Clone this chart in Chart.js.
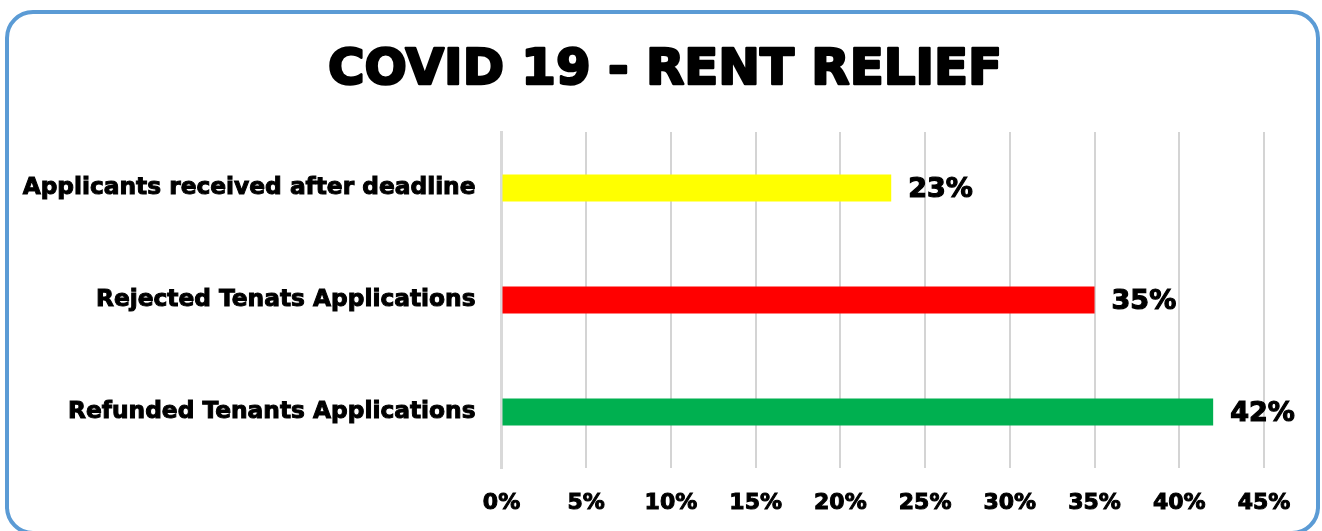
<!DOCTYPE html>
<html>
<head>
<meta charset="utf-8">
<script src="https://cdn.jsdelivr.net/npm/chart.js@4.4.0/dist/chart.umd.min.js"></script>
<style>
  html, body { margin: 0; padding: 0; background: #ffffff; }
  #wrap { position: relative; width: 1322px; height: 531px; overflow: hidden; }
  #frame { position: absolute; left: 5px; top: 10px; width: 1315px; height: 525px;
           box-sizing: border-box; border: 4px solid #5b9bd5; border-radius: 28px; }
  #c { position: absolute; left: 0; top: 0; }
</style>
</head>
<body>
<div id="wrap">
  <div id="frame"></div>
  <canvas id="c" width="1322" height="531"></canvas>
</div>
<script>
const titleText = "COVID 19 - RENT RELIEF";
const categories = [
  "Applicants received after deadline",
  "Rejected Tenats Applications",
  "Refunded Tenants Applications"
];
const values = [23, 35, 42];
const barColors = ["#ffff00", "#ff0000", "#00b050"];
const tickValues = [0, 5, 10, 15, 20, 25, 30, 35, 40, 45];

const FONT = "'DejaVu Sans', 'Liberation Sans', Arial, sans-serif";

const titlePlugin = {
  id: 'heavyTitle',
  afterDraw(chart) {
    const ctx = chart.ctx;
    ctx.save();
    ctx.font = "bold 49.8px " + FONT;
    ctx.fillStyle = "#000000";
    ctx.strokeStyle = "#000000";
    ctx.lineWidth = 2.5;
    ctx.lineJoin = "round";
    ctx.textAlign = "center";
    ctx.textBaseline = "alphabetic";
    ctx.strokeText(titleText, 665, 84);
    ctx.fillText(titleText, 665, 84);
    ctx.restore();
  }
};

const dataLabels = {
  id: 'dataLabels',
  afterDatasetsDraw(chart) {
    const ctx = chart.ctx;
    const meta = chart.getDatasetMeta(0);
    ctx.save();
    ctx.font = "bold 27px " + FONT;
    ctx.fillStyle = "#000000";
    ctx.strokeStyle = "#000000";
    ctx.lineWidth = 1.2;
    ctx.textAlign = "left";
    ctx.textBaseline = "middle";
    meta.data.forEach((bar, i) => {
      const t = values[i] + "%";
      ctx.strokeText(t, bar.x + 17, bar.y + 2);
      ctx.fillText(t, bar.x + 17, bar.y + 2);
    });
    ctx.restore();
  }
};

new Chart(document.getElementById('c'), {
  type: 'bar',
  data: {
    labels: categories,
    datasets: [{
      data: values,
      backgroundColor: barColors,
      borderWidth: 0,
      barPercentage: 0.8,
      categoryPercentage: 0.3
    }]
  },
  options: {
    indexAxis: 'y',
    responsive: false,
    animation: false,
    layout: { padding: { left: 0, right: 58, top: 132, bottom: 0 } },
    plugins: {
      legend: { display: false },
      tooltip: { enabled: false },
      title: { display: false }
    },
    scales: {
      x: {
        min: 0,
        max: 45,
        afterBuildTicks(scale) { scale.ticks = tickValues.map(v => ({ value: v })); },
        afterFit(scale) { scale.height = 63; },
        grid: { color: '#d4d4d4', lineWidth: 2, drawTicks: false },
        border: { display: false },
        ticks: {
          color: '#000000',
          padding: 22,
          textStrokeColor: '#000000',
          textStrokeWidth: 1,
          font: { family: FONT, size: 22, weight: 'bold' },
          callback: (v) => v + '%'
        }
      },
      y: {
        afterFit(scale) { scale.width = 501.5; },
        grid: { display: false, drawTicks: false },
        border: { display: true, color: '#d9d9d9', width: 3 },
        ticks: {
          color: '#000000',
          padding: 26,
          textStrokeColor: '#000000',
          textStrokeWidth: 1,
          font: { family: FONT, size: 23.3, weight: 'bold' }
        }
      }
    }
  },
  plugins: [dataLabels, titlePlugin]
});
</script>
</body>
</html>
